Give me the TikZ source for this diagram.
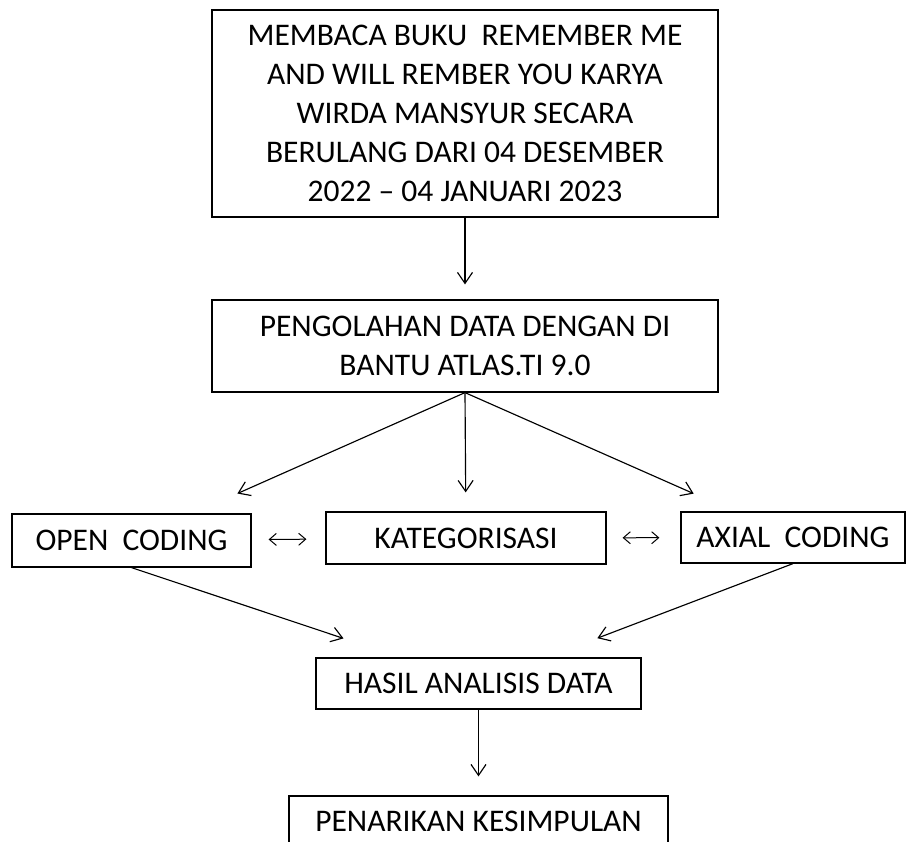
\documentclass[tikz,border=0pt]{standalone}
\usepackage{fontspec}
\setmainfont{Carlito}
\usetikzlibrary{arrows.meta}

\begin{document}
\begin{tikzpicture}[x=1pt, y=-1pt,
    box/.style={draw, line width=1.2pt, inner sep=0pt, align=center, font=\fontsize{31.5}{39}\selectfont},
    arrow/.style={-{Straight Barb[length=11pt, width=15pt]}, line width=1.15pt},
    both/.style={{Straight Barb[length=7pt, width=12pt]}-{Straight Barb[length=7pt, width=12pt]}, line width=1pt}
  ]
    \useasboundingbox (0, 0) rectangle (907, 841);
    \node[box, minimum width=506pt, minimum height=207pt] (baca) at (465, 113.5) {MEMBACA BUKU\ \ REMEMBER ME\\AND WILL REMBER YOU KARYA\\WIRDA MANSYUR SECARA\\BERULANG DARI 04 DESEMBER\\2022 -- 04 JANUARI 2023};
    \node[box, minimum width=506pt, minimum height=92pt] (olah) at (465, 346) {PENGOLAHAN DATA DENGAN DI\\BANTU ATLAS.TI 9.0};
    \node[box, minimum width=239pt, minimum height=53pt] (open) at (131.5, 540.5) {OPEN\ \ CODING};
    \node[box, minimum width=280pt, minimum height=52pt] (kat) at (466, 538) {KATEGORISASI};
    \node[box, minimum width=224pt, minimum height=51pt] (axial) at (793, 537.5) {AXIAL\ \ CODING};
    \node[box, minimum width=325pt, minimum height=51pt] (hasil) at (478.5, 683.5) {HASIL ANALISIS DATA};
    \node[box, minimum width=379pt, minimum height=51pt] (tarik) at (478.5, 821.5) {PENARIKAN KESIMPULAN};

    \draw[arrow, shorten >=15pt] (baca) -- (olah);
    \draw[arrow, shorten >=49pt] (olah.south) -- (open);
    \draw[arrow, shorten >=19pt] (olah.south) -- (kat);
    \draw[arrow, shorten >=44pt] (olah.south) -- (axial);
    \draw[both, shorten <=17pt, shorten >=19pt] (open) -- (kat);
    \draw[both, shorten <=16pt, shorten >=21pt] (kat) -- (axial);
    \draw[arrow, shorten >=60pt] (open.south) -- (hasil);
    \draw[arrow, shorten >=54pt] (axial.south) -- (hasil);
    \draw[arrow, shorten >=19pt] (hasil) -- (tarik);
  \end{tikzpicture}
\end{document}
